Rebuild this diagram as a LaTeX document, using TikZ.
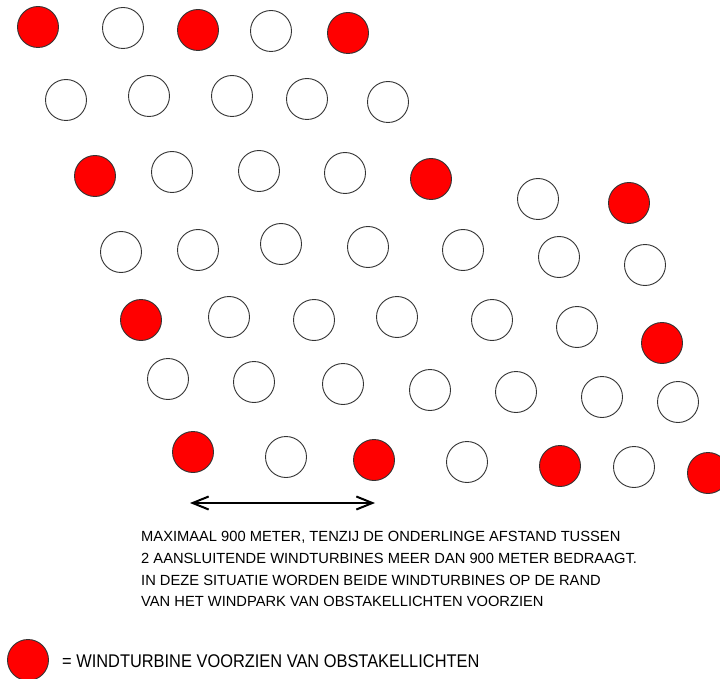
\documentclass[tikz,border=0pt]{standalone}
\usepackage{fontspec}
\setmainfont{Liberation Sans}
\usetikzlibrary{arrows.meta}
\definecolor{lightred}{RGB}{255,0,0}
\tikzset{
  turb/.style={circle,minimum size=41pt,inner sep=0pt,draw=black!80,line width=0.9pt},
  lit/.style={turb,fill=lightred},
  unlit/.style={turb,fill=white},
  txt/.style={anchor=base west,inner sep=0pt,font=\fontsize{14.7pt}{17pt}\selectfont},
  legtxt/.style={anchor=base west,inner sep=0pt,yscale=1.12,font=\fontsize{16.4pt}{19pt}\selectfont},
}
\begin{document}
\begin{tikzpicture}[x=1pt,y=-1pt]
\useasboundingbox (0,0) rectangle (720,679);
\clip (0,0) rectangle (720,679);
% row 1
\node[lit]   (r1a) at (38,27) {};
\node[unlit] (r1b) at (123,28) {};
\node[lit]   (r1c) at (198,30) {};
\node[unlit] (r1d) at (271,31) {};
\node[lit]   (r1e) at (348,33) {};
% row 2
\node[unlit] (r2a) at (66,100) {};
\node[unlit] (r2b) at (149,96) {};
\node[unlit] (r2c) at (232,96) {};
\node[unlit] (r2d) at (307,99) {};
\node[unlit] (r2e) at (388,102) {};
% row 3
\node[lit]   (r3a) at (95,176) {};
\node[unlit] (r3b) at (172,172) {};
\node[unlit] (r3c) at (259,171) {};
\node[unlit] (r3d) at (345,173) {};
\node[lit]   (r3e) at (431,179) {};
\node[unlit] (r3f) at (538,199) {};
\node[lit]   (r3g) at (629,203) {};
% row 4
\node[unlit] (r4a) at (121,252) {};
\node[unlit] (r4b) at (198,250) {};
\node[unlit] (r4c) at (281,244) {};
\node[unlit] (r4d) at (368,247) {};
\node[unlit] (r4e) at (463,250) {};
\node[unlit] (r4f) at (559,257) {};
\node[unlit] (r4g) at (645,265) {};
% row 5
\node[lit]   (r5a) at (141,320) {};
\node[unlit] (r5b) at (229,317) {};
\node[unlit] (r5c) at (314,320) {};
\node[unlit] (r5d) at (397,317) {};
\node[unlit] (r5e) at (492,320) {};
\node[unlit] (r5f) at (577,327) {};
\node[lit]   (r5g) at (662,343) {};
% row 6
\node[unlit] (r6a) at (168,379) {};
\node[unlit] (r6b) at (254,382) {};
\node[unlit] (r6c) at (343,384) {};
\node[unlit] (r6d) at (430,390) {};
\node[unlit] (r6e) at (516,392) {};
\node[unlit] (r6f) at (602,397) {};
\node[unlit] (r6g) at (678,402) {};
% row 7
\node[lit]   (r7a) at (193,452) {};
\node[unlit] (r7b) at (286,457) {};
\node[lit]   (r7c) at (374,460) {};
\node[unlit] (r7d) at (467,462) {};
\node[lit]   (r7e) at (560,466) {};
\node[unlit] (r7f) at (634,467) {};
\node[lit]   (r7g) at (708,473) {};
% distance arrow
\coordinate (aL) at (190,503);
\coordinate (aR) at (375,503);
\draw[line width=2pt,{Straight Barb[length=16pt,width=13pt]}-{Straight Barb[length=16pt,width=13pt]}] (aL) -- (aR);
% explanation text
\node[txt] (t1) at (141,541) {MAXIMAAL 900 METER, TENZIJ DE ONDERLINGE AFSTAND TUSSEN};
\node[txt] (t2) at (141,563) {2 AANSLUITENDE WINDTURBINES MEER DAN 900 METER BEDRAAGT.};
\node[txt] (t3) at (141,585) {IN DEZE SITUATIE WORDEN BEIDE WINDTURBINES OP DE RAND};
\node[txt] (t4) at (141,606.5) {VAN HET WINDPARK VAN OBSTAKELLICHTEN VOORZIEN};
% legend
\node[lit] (leg) at (28,660) {};
\node[legtxt] (legt) at (62,667) {= WINDTURBINE VOORZIEN VAN OBSTAKELLICHTEN};
\end{tikzpicture}
\end{document}
